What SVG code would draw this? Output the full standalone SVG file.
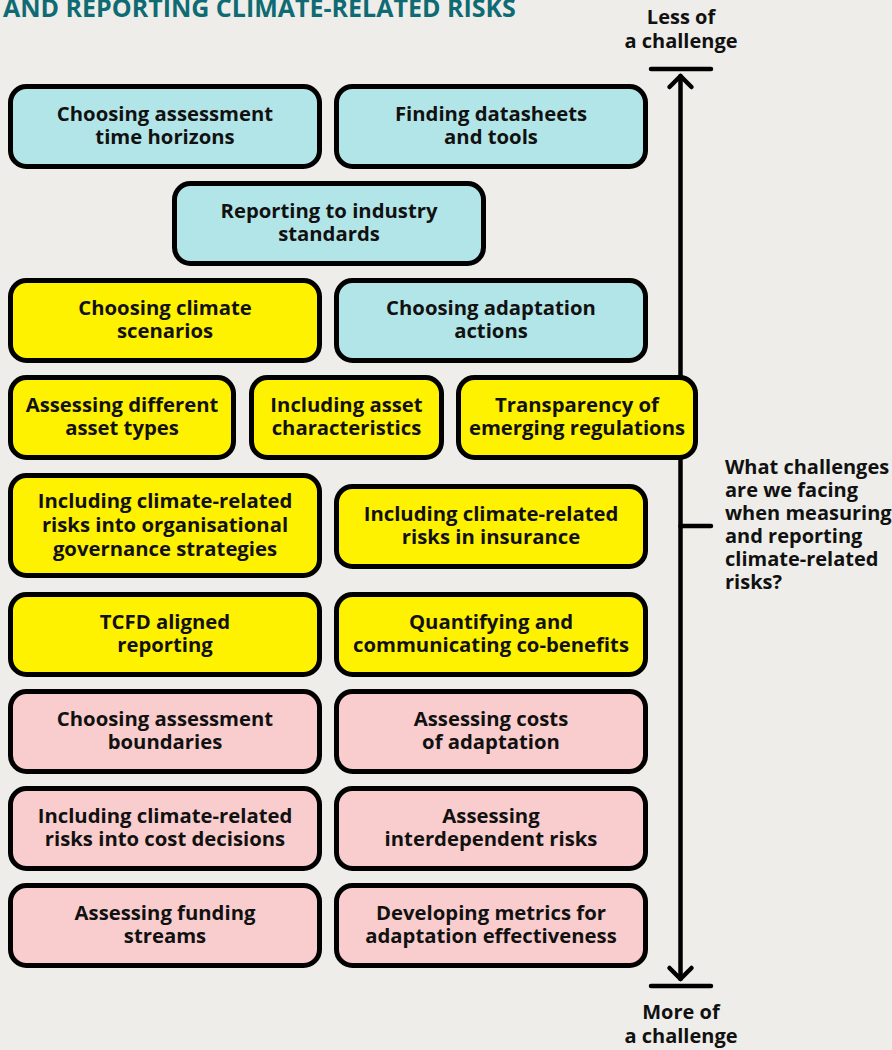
<svg xmlns="http://www.w3.org/2000/svg" width="892" height="1050" viewBox="0 0 892 1050">
<style>
.bg{fill:#eeede9}
.box{stroke:#000;stroke-width:5}
.blue{fill:#b2e5e8}
.yellow{fill:#fff200}
.pink{fill:#f9cdcd}
text{font-family:"Open Sans","Noto Sans",sans-serif;font-weight:700;fill:#111}
.t{font-size:20.3px;text-anchor:middle}
.title{font-size:25px;fill:#0f6b73}
.q{font-size:20px}
.axis{stroke:#000;stroke-width:4.5;fill:none;stroke-linecap:round;stroke-linejoin:round}
</style>
<rect class="bg" x="0" y="0" width="892" height="1050"/>
<text class="title" x="3" y="17">AND REPORTING CLIMATE-RELATED RISKS</text>

<g id="connectors">
<line class="axis" x1="680.5" y1="76" x2="680.5" y2="979"/>
<line class="axis" x1="651" y1="69" x2="711" y2="69"/>
<line class="axis" x1="651" y1="986" x2="711" y2="986"/>
<polyline class="axis" points="669.5,87 680.5,76 691.5,87"/>
<polyline class="axis" points="669.5,968 680.5,979 691.5,968"/>
<line class="axis" x1="680.5" y1="526" x2="711" y2="526"/>
</g>

<g id="label-less"><text class="t" x="681" y="24" style="font-size:20px">Less of</text><text class="t" x="681" y="48" style="font-size:20px">a challenge</text></g>
<g id="label-more"><text class="t" x="681" y="1019" style="font-size:20px">More of</text><text class="t" x="681" y="1043" style="font-size:20px">a challenge</text></g>
<g id="question">
<text class="q" x="725" y="474">What challenges</text>
<text class="q" x="725" y="497">are we facing</text>
<text class="q" x="725" y="520">when measuring</text>
<text class="q" x="725" y="543">and reporting</text>
<text class="q" x="725" y="566">climate-related</text>
<text class="q" x="725" y="589">risks?</text>
</g>

<g id="n1"><rect class="box blue" x="10.5" y="86.5" width="309" height="80" rx="16"/><text class="t" x="165" y="121">Choosing assessment</text><text class="t" x="165" y="144">time horizons</text></g>
<g id="n2"><rect class="box blue" x="336.5" y="86.5" width="309" height="80" rx="16"/><text class="t" x="491" y="121">Finding datasheets</text><text class="t" x="491" y="144">and tools</text></g>
<g id="n3"><rect class="box blue" x="174.5" y="183.5" width="309" height="80" rx="16"/><text class="t" x="329" y="218">Reporting to industry</text><text class="t" x="329" y="241">standards</text></g>
<g id="n4"><rect class="box yellow" x="10.5" y="280.5" width="309" height="80" rx="16"/><text class="t" x="165" y="315">Choosing climate</text><text class="t" x="165" y="338">scenarios</text></g>
<g id="n5"><rect class="box blue" x="336.5" y="280.5" width="309" height="80" rx="16"/><text class="t" x="491" y="315">Choosing adaptation</text><text class="t" x="491" y="338">actions</text></g>
<g id="n6"><rect class="box yellow" x="10.5" y="377.5" width="223" height="80" rx="16"/><text class="t" x="122" y="412">Assessing different</text><text class="t" x="122" y="435">asset types</text></g>
<g id="n7"><rect class="box yellow" x="251.5" y="377.5" width="190" height="80" rx="16"/><text class="t" x="346.5" y="412">Including asset</text><text class="t" x="346.5" y="435">characteristics</text></g>
<g id="n8"><rect class="box yellow" x="458.5" y="377.5" width="237" height="80" rx="16"/><text class="t" x="577" y="412">Transparency of</text><text class="t" x="577" y="435">emerging regulations</text></g>
<g id="n9"><rect class="box yellow" x="10.5" y="475.5" width="309" height="100" rx="16"/><text class="t" x="165" y="508">Including climate-related</text><text class="t" x="165" y="532">risks into organisational</text><text class="t" x="165" y="556">governance strategies</text></g>
<g id="n10"><rect class="box yellow" x="336.5" y="486.5" width="309" height="80" rx="16"/><text class="t" x="491" y="521">Including climate-related</text><text class="t" x="491" y="544">risks in insurance</text></g>
<g id="n11"><rect class="box yellow" x="10.5" y="594.5" width="309" height="80" rx="16"/><text class="t" x="165" y="629">TCFD aligned</text><text class="t" x="165" y="652">reporting</text></g>
<g id="n12"><rect class="box yellow" x="336.5" y="594.5" width="309" height="80" rx="16"/><text class="t" x="491" y="629">Quantifying and</text><text class="t" x="491" y="652">communicating co-benefits</text></g>
<g id="n13"><rect class="box pink" x="10.5" y="691.5" width="309" height="80" rx="16"/><text class="t" x="165" y="726">Choosing assessment</text><text class="t" x="165" y="749">boundaries</text></g>
<g id="n14"><rect class="box pink" x="336.5" y="691.5" width="309" height="80" rx="16"/><text class="t" x="491" y="726">Assessing costs</text><text class="t" x="491" y="749">of adaptation</text></g>
<g id="n15"><rect class="box pink" x="10.5" y="788.5" width="309" height="80" rx="16"/><text class="t" x="165" y="823">Including climate-related</text><text class="t" x="165" y="846">risks into cost decisions</text></g>
<g id="n16"><rect class="box pink" x="336.5" y="788.5" width="309" height="80" rx="16"/><text class="t" x="491" y="823">Assessing</text><text class="t" x="491" y="846">interdependent risks</text></g>
<g id="n17"><rect class="box pink" x="10.5" y="885.5" width="309" height="80" rx="16"/><text class="t" x="165" y="920">Assessing funding</text><text class="t" x="165" y="943">streams</text></g>
<g id="n18"><rect class="box pink" x="336.5" y="885.5" width="309" height="80" rx="16"/><text class="t" x="491" y="920">Developing metrics for</text><text class="t" x="491" y="943">adaptation effectiveness</text></g>
</svg>
